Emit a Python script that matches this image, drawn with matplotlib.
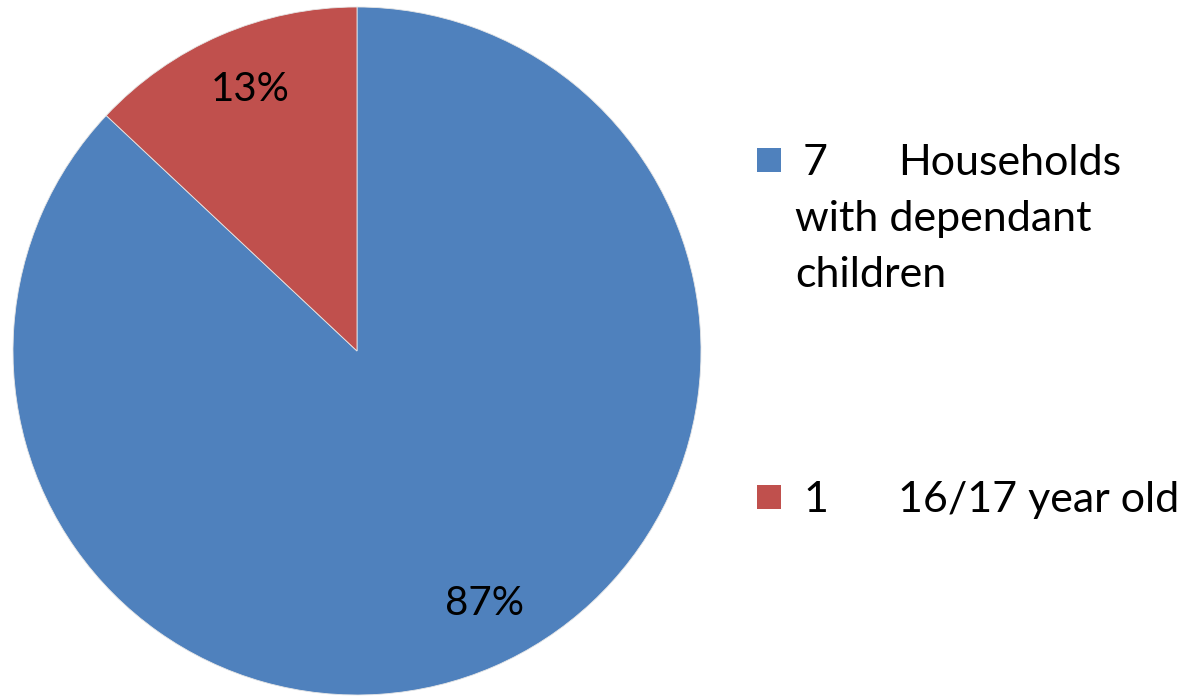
import matplotlib.pyplot as plt
from matplotlib.patches import Rectangle

# share of cases by household type (percent)
categories = ['7', '1']
descriptions = ['Households\nwith dependant\nchildren', '16/17 year old']
shares = [87, 13]
colors = ['#4F81BD', '#C0504D']

W, H = 1183, 698


def fx(px):
    return px / W


def fy(py):
    # pixel rows counted from the top
    return 1 - py / H


def main():
    fig = plt.figure(figsize=(W / 100, H / 100), dpi=100)

    cx, cy, r = 357, 351, 344
    ax = fig.add_axes([fx(cx - r), fy(cy + r), 2 * r / W, 2 * r / H])
    _, _, autotexts = ax.pie(shares, colors=colors, startangle=90, counterclock=False,
                             radius=1, autopct='%d%%', pctdistance=0.82,
                             wedgeprops=dict(edgecolor='#e6e6e6', linewidth=0.6),
                             textprops=dict(fontsize=29, family='Lato', color='black'))
    # nudge the percentage labels to their best-fit spots
    autotexts[0].set_position((0.372, -0.733))
    autotexts[1].set_position((-0.311, 0.759))
    ax.set_xlim(-1, 1)
    ax.set_ylim(-1, 1)
    ax.set_aspect('equal')
    ax.axis('off')

    # legend drawn by hand so wrapped labels line up
    font = dict(fontsize=31, family='Lato', color='black')
    entries = [(148, 175), (485, 512)]
    for (top, base), color, cat, desc in zip(entries, colors, categories, descriptions):
        fig.patches.append(Rectangle((fx(757), fy(top + 24)), 24 / W, 24 / H,
                                     transform=fig.transFigure, facecolor=color,
                                     edgecolor='none'))
        lines = desc.split('\n')
        fig.text(fx(803), fy(base), cat, va='baseline', ha='left', **font)
        fig.text(fx(898), fy(base), lines[0], va='baseline', ha='left', **font)
        for i, line in enumerate(lines[1:], start=1):
            fig.text(fx(795), fy(base + 56 * i), line, va='baseline', ha='left', **font)

    fig.savefig('out.png', dpi=100)


if __name__ == '__main__':
    main()
